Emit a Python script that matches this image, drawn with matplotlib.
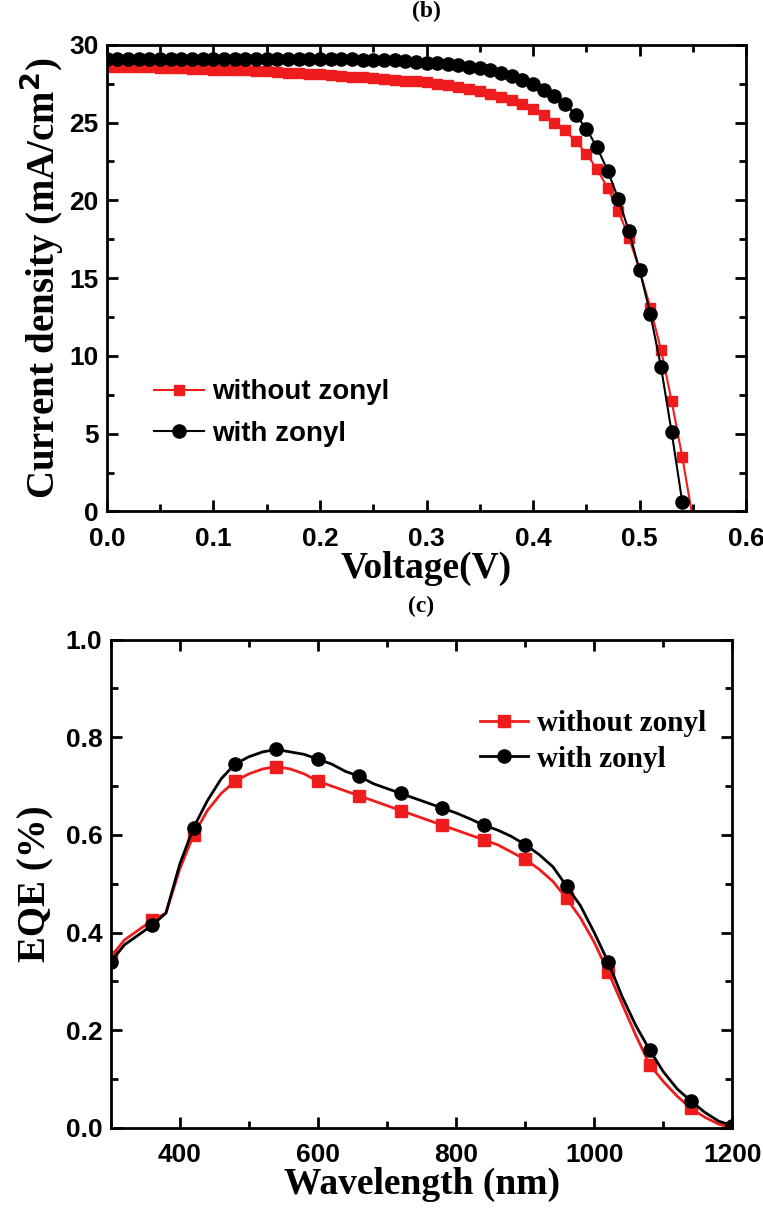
import matplotlib.pyplot as plt
from matplotlib.ticker import MultipleLocator

# J-V data, (b)
voltage = [0.00, 0.01, 0.02, 0.03, 0.04, 0.05, 0.06, 0.07, 0.08, 0.09,
           0.10, 0.11, 0.12, 0.13, 0.14, 0.15, 0.16, 0.17, 0.18, 0.19,
           0.20, 0.21, 0.22, 0.23, 0.24, 0.25, 0.26, 0.27, 0.28, 0.29,
           0.30, 0.31, 0.32, 0.33, 0.34, 0.35, 0.36, 0.37, 0.38, 0.39,
           0.40, 0.41, 0.42, 0.43, 0.44, 0.45, 0.46, 0.47, 0.48, 0.49,
           0.50, 0.51, 0.52, 0.53, 0.54, 0.55]
j_without = [28.6, 28.6, 28.6, 28.55, 28.55, 28.5, 28.5, 28.5, 28.45, 28.45,
             28.4, 28.4, 28.35, 28.35, 28.3, 28.3, 28.25, 28.2, 28.2, 28.15,
             28.1, 28.05, 28.0, 27.95, 27.9, 27.85, 27.8, 27.75, 27.7, 27.65,
             27.6, 27.5, 27.4, 27.3, 27.15, 27.0, 26.85, 26.65, 26.45, 26.2,
             25.9, 25.5, 25.0, 24.5, 23.8, 23.0, 22.0, 20.8, 19.3, 17.6,
             15.5, 13.1, 10.4, 7.1, 3.5, -0.5]
j_with = [29.1, 29.1, 29.1, 29.1, 29.1, 29.1, 29.1, 29.1, 29.1, 29.1,
          29.1, 29.1, 29.1, 29.1, 29.1, 29.1, 29.1, 29.1, 29.1, 29.1,
          29.1, 29.08, 29.07, 29.06, 29.05, 29.05, 29.0, 29.0, 28.95, 28.9,
          28.85, 28.8, 28.75, 28.7, 28.6, 28.5, 28.35, 28.2, 28.0, 27.75,
          27.45, 27.1, 26.7, 26.2, 25.5, 24.6, 23.4, 21.9, 20.1, 18.0,
          15.5, 12.7, 9.3, 5.1, 0.6]

# EQE data, (c)
wavelength = [300, 320, 340, 360, 380, 400, 420, 440, 460, 480,
              500, 520, 540, 560, 580, 600, 620, 640, 660, 680,
              700, 720, 740, 760, 780, 800, 820, 840, 860, 880,
              900, 920, 940, 960, 980, 1000, 1020, 1040, 1060, 1080,
              1100, 1120, 1140, 1160, 1180, 1200]
eqe_without = [0.35, 0.385, 0.405, 0.425, 0.44, 0.53, 0.60, 0.65, 0.685, 0.71,
               0.725, 0.735, 0.74, 0.735, 0.725, 0.71, 0.70, 0.69, 0.68, 0.67,
               0.66, 0.65, 0.64, 0.63, 0.62, 0.61, 0.60, 0.59, 0.58, 0.565,
               0.55, 0.53, 0.505, 0.47, 0.43, 0.38, 0.32, 0.255, 0.19, 0.13,
               0.095, 0.065, 0.04, 0.022, 0.008, 0.0]
eqe_with = [0.34, 0.375, 0.395, 0.415, 0.44, 0.54, 0.615, 0.67, 0.715, 0.745,
            0.76, 0.77, 0.775, 0.77, 0.765, 0.755, 0.745, 0.73, 0.72, 0.705,
            0.695, 0.685, 0.675, 0.665, 0.655, 0.645, 0.633, 0.62, 0.61, 0.597,
            0.58, 0.56, 0.535, 0.495, 0.455, 0.40, 0.34, 0.27, 0.21, 0.16,
            0.115, 0.08, 0.055, 0.032, 0.014, 0.005]

serif = ['Liberation Serif', 'DejaVu Serif']
sans = ['Liberation Sans', 'DejaVu Sans']
red = '#ee1c1c'

fig = plt.figure(figsize=(7.63, 12.09), dpi=100)


def style_axes(ax):
    for s in ax.spines.values():
        s.set_linewidth(2)
    ax.tick_params(which='both', direction='in', top=True, right=True, width=2)
    ax.tick_params(which='major', length=8)
    ax.tick_params(which='minor', length=5)
    ax.tick_params(axis='x', which='major', pad=11)
    ax.tick_params(axis='y', which='major', pad=6)
    for lab in ax.get_xticklabels() + ax.get_yticklabels():
        lab.set_fontfamily(sans)
        lab.set_fontweight('bold')
        lab.set_fontsize(19)


# (b) J-V curve
ax1 = fig.add_axes([0.140, 0.577, 0.838, 0.386])
ax1.plot(voltage, j_without, color=red, marker='s', markersize=7.5, lw=1.5,
         label='without zonyl')
ax1.plot(voltage[:len(j_with)], j_with, color='black', marker='o', markersize=9.5,
         lw=1.5, label='with zonyl')
ax1.set_xlim(0, 0.6)
ax1.set_ylim(0, 30)
ax1.xaxis.set_major_locator(MultipleLocator(0.1))
ax1.xaxis.set_minor_locator(MultipleLocator(0.05))
ax1.yaxis.set_major_locator(MultipleLocator(5))
ax1.yaxis.set_minor_locator(MultipleLocator(2.5))
style_axes(ax1)
ax1.set_xlabel('Voltage(V)', fontfamily=serif, fontweight='bold', fontsize=27, labelpad=0)
ax1.set_ylabel('Current density (mA/cm$^\\mathbf{2}$)', fontfamily=serif,
               fontweight='bold', fontsize=28, labelpad=2)
ax1.set_title('(b)', fontfamily=serif, fontweight='bold', fontsize=17, pad=20)
ax1.legend(loc='lower left', bbox_to_anchor=(0.035, 0.085), frameon=False,
           prop={'family': sans, 'weight': 'bold', 'size': 20},
           handlelength=1.8, handletextpad=0.3, labelspacing=0.55)

# (c) EQE spectrum
ax2 = fig.add_axes([0.145, 0.067, 0.815, 0.404])
ax2.plot(wavelength, eqe_without, color=red, marker='s', markersize=9, lw=2,
         markevery=3, label='without zonyl')
ax2.plot(wavelength, eqe_with, color='black', marker='o', markersize=9.5, lw=2,
         markevery=3, label='with zonyl')
ax2.set_xlim(300, 1200)
ax2.set_ylim(0, 1.0)
ax2.xaxis.set_major_locator(MultipleLocator(200))
ax2.xaxis.set_minor_locator(MultipleLocator(100))
ax2.yaxis.set_major_locator(MultipleLocator(0.2))
ax2.yaxis.set_minor_locator(MultipleLocator(0.1))
style_axes(ax2)
ax2.set_xlabel('Wavelength (nm)', fontfamily=serif, fontweight='bold', fontsize=27, labelpad=0)
ax2.set_ylabel('EQE (%)', fontfamily=serif, fontweight='bold', fontsize=28, labelpad=8)
ax2.set_title('(c)', fontfamily=serif, fontweight='bold', fontsize=17, pad=20)
ax2.legend(loc='upper right', bbox_to_anchor=(1.0, 0.91), frameon=False,
           prop={'family': serif, 'weight': 'bold', 'size': 21},
           handlelength=1.65, handletextpad=0.3, labelspacing=0.3)

fig.savefig('out.png', dpi=100)
